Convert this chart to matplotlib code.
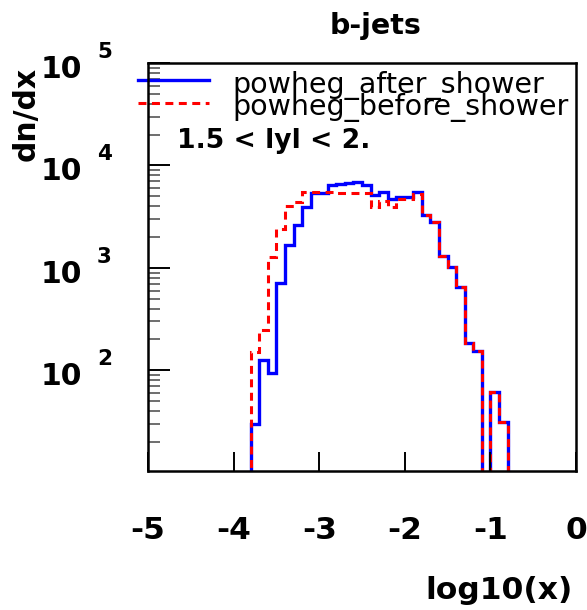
import matplotlib
matplotlib.use("Agg")
import matplotlib.pyplot as plt
import numpy as np

# --- data (bin contents, bins of 0.1 in log10(x)) ---
bin_lo = -3.8
bin_width = 0.1
after_shower = [30, 126, 94, 705, 1660, 2600, 3920, 5330, 5330, 6450,
                6620, 6750, 6880, 6380, 5090, 5500, 4750, 4900, 4900, 5500,
                3250, 2800, 1310, 1020, 650, 186, 155, 0, 62, 31]
before_shower = [152, 245, 1290, 2370, 4050, 4390, 5450, 5450, 5450, 5450,
                 5400, 5400, 5350, 5350, 3950, 4500, 3950, 4750, 4750, 5300,
                 3250, 2800, 1310, 1020, 650, 186, 155, 0, 62, 31]
labels = ["powheg_after_shower", "powheg_before_shower"]
x_ticks = [-5, -4, -3, -2, -1, 0]
y_decades = [2, 3, 4, 5]

plt.rcParams["font.family"] = ["DejaVu Sans"]

W, H = 587, 610
fig = plt.figure(figsize=(W / 100, H / 100), dpi=100)
ax = fig.add_axes([148 / W, 1 - 471 / H, 428 / W, 408 / H])

edges = bin_lo + bin_width * np.arange(len(after_shower) + 1)
floor = 1.0  # empty bins drop below the frame


def filled(vals):
    v = np.asarray(vals, dtype=float)
    return np.where(v > 0, v, floor)


ax.stairs(filled(after_shower), edges, baseline=floor, color="#0000ff",
          linewidth=2.4, label=labels[0])
ax.stairs(filled(before_shower), edges, baseline=floor, color="#ff0000",
          linewidth=2.2, linestyle=(0, (2.6, 1.8)), label=labels[1])

ax.set_yscale("log")
ax.set_xlim(-5, 0)
ax.set_ylim(10.4, 1e5)

for s in ax.spines.values():
    s.set_linewidth(1.8)

ax.set_xticks(x_ticks)
ax.set_xticklabels([str(t) for t in x_ticks], fontsize=22.5, fontweight="bold")
ax.tick_params(axis="x", which="both", direction="in", length=14, width=1.4,
               pad=32.5, top=False, bottom=True)
ax.xaxis.set_minor_locator(matplotlib.ticker.NullLocator())

ax.yaxis.set_major_locator(matplotlib.ticker.FixedLocator([10.0 ** d for d in y_decades]))
ax.yaxis.set_minor_locator(matplotlib.ticker.LogLocator(base=10, subs=np.arange(2, 10)))
ax.yaxis.set_major_formatter(matplotlib.ticker.NullFormatter())
ax.yaxis.set_minor_formatter(matplotlib.ticker.NullFormatter())
ax.tick_params(axis="y", which="major", direction="in", length=16, width=1.4,
               left=True, right=False)
ax.tick_params(axis="y", which="minor", direction="in", length=8.5, width=1.2,
               color="#555555", left=True, right=False)

# ROOT style "10 ^5" labels
ytr = ax.get_yaxis_transform()
for d in y_decades:
    ax.annotate("10", xy=(0, 10.0 ** d), xycoords=ytr, xytext=(-47.5, -10.8),
                textcoords="offset points", ha="right", va="baseline",
                fontsize=21.5, fontweight="bold", annotation_clip=False)
    ax.annotate(str(d), xy=(0, 10.0 ** d), xycoords=ytr, xytext=(-36.7, 3.6),
                textcoords="offset points", ha="left", va="baseline",
                fontsize=15.5, fontweight="bold", annotation_clip=False)

ax.set_xlabel("log10(x)", loc="right", fontsize=22.6, fontweight="bold", va="baseline")
ax.xaxis.set_label_coords((573 - 148) / 428, (471 - 599) / 408)
ax.set_ylabel("dn/dx", loc="top", fontsize=21.5, fontweight="bold")
ax.yaxis.set_label_coords(-0.252, 0.99)

fig.text(376 / W, 1 - 33.5 / H, "b-jets", ha="center", va="baseline",
         fontsize=20.5, fontweight="bold")

# legend, drawn like the ROOT one
leg_rows = [(80, 92.7, "#0000ff", "-", 2.4), (103, 115, "#ff0000", (0, (2.6, 1.8)), 2.2)]
for (ly, ty, c, ls, lw), lab in zip(leg_rows, labels):
    ya = (471 - ly) / 408
    ax.plot([(138 - 148) / 428, (209 - 148) / 428], [ya, ya], transform=ax.transAxes,
            color=c, linestyle=ls, linewidth=lw, clip_on=False)
    ax.text((232 - 148) / 428, (471 - ty) / 408, lab, transform=ax.transAxes,
            ha="left", va="baseline", fontsize=20.5)

ax.text((177 - 148) / 428, (471 - 148) / 408, "1.5 < lyl < 2.", transform=ax.transAxes,
        ha="left", va="baseline", fontsize=19.2, fontweight="bold")

fig.savefig("out.png", dpi=100)
